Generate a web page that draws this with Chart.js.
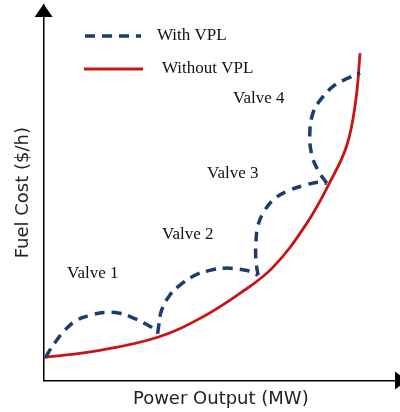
<!DOCTYPE html>
<html>
<head>
<meta charset="utf-8">
<script src="https://cdn.jsdelivr.net/npm/chart.js@4"></script>
<style>
  html, body { margin: 0; padding: 0; background: #fff; }
  #wrap { width: 400px; height: 412px; }
</style>
</head>
<body>
<div id="wrap"><canvas id="vplChart"></canvas></div>
<script>
// cost curve without valve-point loading (x = power, y = cost, 0..100 units)
const baseX = [0, 15.8, 32.2, 44.1, 55.4, 64.7, 74.3, 80.8, 85.6, 88.1, 89.3];
const baseY = [6.1, 8.0, 11.5, 16.5, 23.2, 30.1, 41.9, 52.8, 62.7, 74.7, 87.2];

// one lobe per valve opening
const valve1X = [0.6, 1.7, 3.7, 5.9, 9.3, 13.0, 17.2, 21.5, 24.9, 28.5, 30.8, 32.2];
const valve1Y = [6.1, 8.0, 10.7, 13.3, 16.0, 17.3, 18.1, 17.9, 16.8, 15.2, 13.9, 12.5];
const valve2X = [32.2, 32.5, 33.3, 35.6, 38.4, 42.7, 46.9, 51.1, 55.4, 58.2, 60.5];
const valve2Y = [12.5, 14.7, 18.7, 22.7, 25.3, 28.0, 29.3, 29.9, 29.6, 29.1, 28.0];
const valve3X = [60.5, 59.9, 59.9, 60.5, 62.4, 65.3, 69.5, 73.7, 77.4, 79.9];
const valve3Y = [28.0, 32.0, 36.5, 41.3, 45.3, 48.5, 50.7, 52.0, 52.8, 52.5];
const valve4X = [79.9, 77.4, 75.7, 75.1, 76.0, 78.5, 82.2, 85.9, 89.3];
const valve4Y = [52.5, 56.0, 60.0, 65.3, 71.2, 75.2, 78.7, 80.5, 81.9];

const valveNames = ["Valve 1", "Valve 2", "Valve 3", "Valve 4"];
const seriesNames = ["With VPL", "Without VPL"];

function toPoints(xs, ys) {
  return xs.map((x, i) => ({ x: x, y: ys[i] }));
}

// lobes joined with a gap so each cusp stays sharp
const lobes = [[valve1X, valve1Y], [valve2X, valve2Y], [valve3X, valve3Y], [valve4X, valve4Y]];
let vplData = [];
lobes.forEach((l, i) => {
  if (i > 0) vplData.push({ x: l[0][0], y: null });
  vplData = vplData.concat(toPoints(l[0], l[1]));
});

const blue = "#1f3b6e";
const red = "#c81414";

// arrow heads on the axes
const arrowPlugin = {
  id: "arrows",
  afterDraw(chart) {
    const ctx = chart.ctx;
    const a = chart.chartArea;
    ctx.save();
    ctx.fillStyle = "#000";
    ctx.beginPath();
    ctx.moveTo(a.left, a.top - 1);
    ctx.lineTo(a.left - 9, a.top + 12);
    ctx.lineTo(a.left + 9, a.top + 12);
    ctx.closePath();
    ctx.fill();
    ctx.beginPath();
    ctx.moveTo(a.right + 9, a.bottom);
    ctx.lineTo(a.right - 3, a.bottom - 9);
    ctx.lineTo(a.right - 3, a.bottom + 9);
    ctx.closePath();
    ctx.fill();
    ctx.restore();
  }
};

// legend and valve labels
const labelPlugin = {
  id: "labels",
  afterDraw(chart) {
    const ctx = chart.ctx;
    ctx.save();
    ctx.font = "17px 'Liberation Serif', 'Times New Roman', serif";
    ctx.fillStyle = "#111";
    ctx.textBaseline = "middle";
    ctx.textAlign = "left";

    const rows = [
      { ds: chart.data.datasets[0], x0: 85, x1: 141, y: 36, tx: 157 },
      { ds: chart.data.datasets[1], x0: 84, x1: 143, y: 69, tx: 162 }
    ];
    rows.forEach(r => {
      ctx.save();
      ctx.strokeStyle = r.ds.borderColor;
      ctx.lineWidth = r.ds.borderWidth;
      ctx.setLineDash(r.ds.borderDash || []);
      ctx.beginPath();
      ctx.moveTo(r.x0, r.y);
      ctx.lineTo(r.x1, r.y);
      ctx.stroke();
      ctx.restore();
      ctx.fillText(r.ds.label, r.tx, r.y);
    });

    const spots = [[67, 274], [162, 235], [207, 174], [233, 99]];
    valveNames.forEach((name, i) => {
      ctx.fillText(name, spots[i][0], spots[i][1]);
    });
    ctx.restore();
  }
};

new Chart(document.getElementById("vplChart"), {
  type: "scatter",
  data: {
    datasets: [
      {
        label: seriesNames[0],
        data: vplData,
        showLine: true,
        borderColor: blue,
        borderWidth: 3.5,
        borderDash: [10, 7],
        tension: 0.4,
        pointRadius: 0,
        spanGaps: false
      },
      {
        label: seriesNames[1],
        data: toPoints(baseX, baseY),
        showLine: true,
        borderColor: red,
        borderWidth: 2.8,
        tension: 0.4,
        pointRadius: 0
      }
    ]
  },
  options: {
    responsive: true,
    maintainAspectRatio: false,
    animation: false,
    layout: { padding: { top: 5, right: 2, left: 4, bottom: 0 } },
    plugins: {
      legend: { display: false },
      tooltip: { enabled: false }
    },
    scales: {
      x: {
        type: "linear",
        min: 0,
        max: 100,
        grid: { display: false, drawTicks: false },
        ticks: { display: false },
        border: { color: "#000", width: 1.5 },
        title: {
          display: true,
          text: "Power Output (MW)",
          color: "#222",
          font: { family: "'DejaVu Sans', Verdana, sans-serif", size: 18 },
          padding: { top: 8, bottom: 2 }
        }
      },
      y: {
        type: "linear",
        min: 0,
        max: 100,
        grid: { display: false, drawTicks: false },
        ticks: { display: false },
        border: { color: "#000", width: 1.5 },
        title: {
          display: true,
          text: "Fuel Cost ($/h)",
          color: "#222",
          font: { family: "'DejaVu Sans', Verdana, sans-serif", size: 18 },
          padding: { top: 9, bottom: 9 }
        }
      }
    }
  },
  plugins: [arrowPlugin, labelPlugin]
});
</script>
</body>
</html>
